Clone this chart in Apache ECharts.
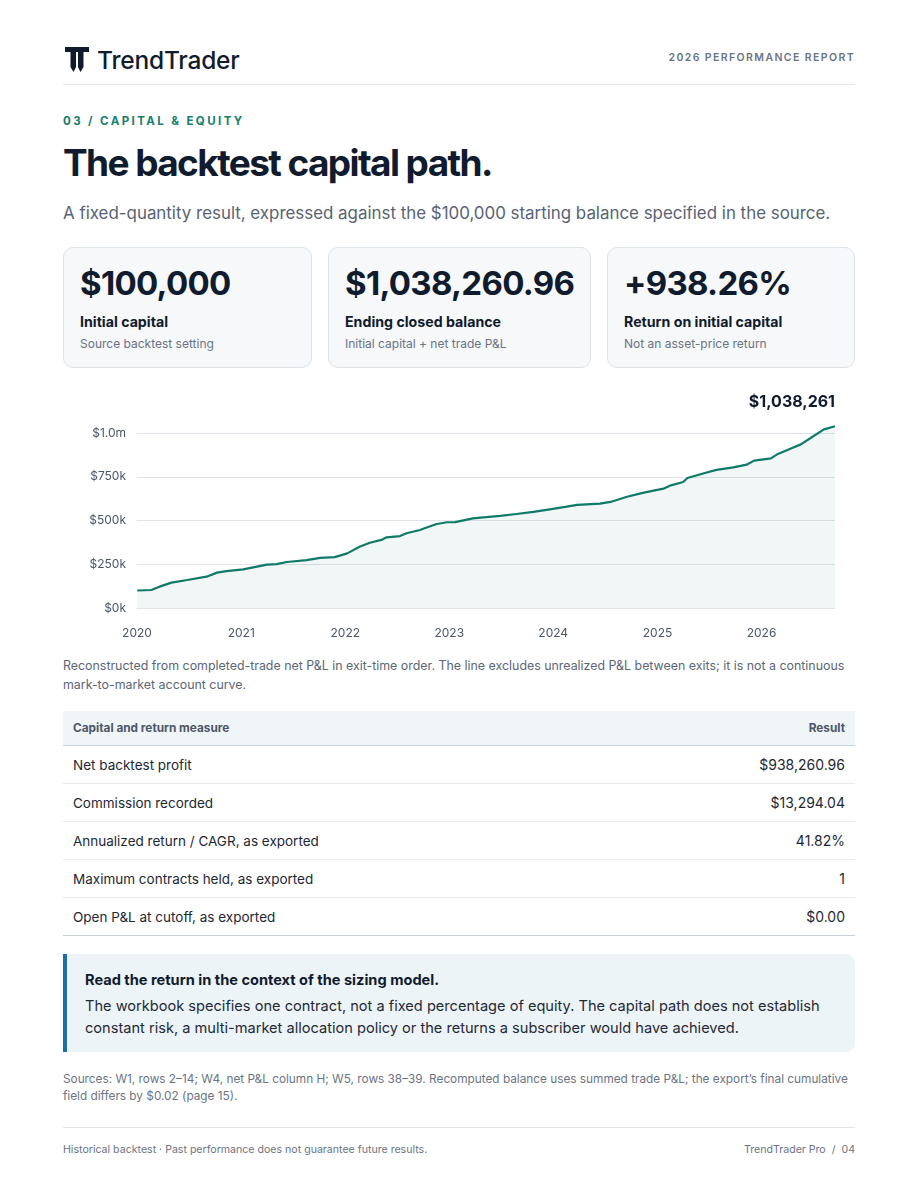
<!DOCTYPE html>
<html>
<head>
<meta charset="utf-8">
<script src="https://cdn.jsdelivr.net/npm/echarts@6/dist/echarts.min.js"></script>
<style>
  html, body { margin: 0; padding: 0; background: #fff; }
  body { width: 918px; height: 1188px; position: relative; font-family: Inter, "Noto Sans", sans-serif; color: #111b2e; }
  .abs { position: absolute; }
  .brand { left: 97px; top: 45px; font-size: 24.5px; line-height: 30px; font-weight: 500; color: #111b2e; letter-spacing: -0.2px; }
  .report { right: 63px; top: 52px; font-size: 10.5px; line-height: 12px; font-weight: 600; letter-spacing: 1.4px; color: #6b7483; }
  .rule { left: 63px; width: 792px; height: 1px; background: #e3e7eb; }
  .kicker { left: 63px; top: 114px; font-size: 11.5px; line-height: 14px; font-weight: 700; letter-spacing: 2.4px; color: #15806f; }
  .title { left: 63px; top: 141px; font-size: 37px; line-height: 44px; font-weight: 700; letter-spacing: -1.6px; color: #111b2e; margin: 0; }
  .sub { left: 63px; top: 202px; font-size: 16.9px; line-height: 22px; color: #586374; }
  .card { top: 247px; height: 121px; background: #f6f8f9; border: 1px solid #dde4ea; border-radius: 10px; box-sizing: border-box; }
  .card .big { position: absolute; left: 16px; top: 16px; font-size: 33px; line-height: 38px; font-weight: 700; letter-spacing: -0.7px; color: #111b2e; }
  .card .lab { position: absolute; left: 16px; top: 65px; font-size: 14.2px; line-height: 18px; font-weight: 700; color: #111b2e; }
  .card .note { position: absolute; left: 16px; top: 88px; font-size: 12px; line-height: 16px; color: #687385; }
  #chart { left: 0; top: 388px; width: 918px; height: 262px; }
  .cap { left: 63px; top: 656px; width: 792px; font-size: 12.4px; line-height: 19px; color: #5b6676; }
  table { position: absolute; left: 63px; top: 711px; width: 792px; border-collapse: collapse; font-size: 14px; color: #1d2736; }
  th { background: #f0f5f8; height: 34px; font-size: 11.8px; font-weight: 700; color: #4b5668; border-bottom: 1.5px solid #c6d2dc; padding: 0 10px; }
  td { height: 37px; border-bottom: 1px solid #e6ebef; padding: 0 10px; }
  td.l { font-size: 13.5px; }
  tr:last-child td { border-bottom: 1px solid #c6d2dc; }
  .l { text-align: left; } .r { text-align: right; }
  .callout { left: 63px; top: 954px; width: 792px; height: 98px; box-sizing: border-box; background: #edf4f8; border-left: 4px solid #1d6ea6; border-radius: 0 9px 9px 0; padding: 16px 8px 0 18px; }
  .callout .h { font-size: 14.6px; line-height: 20px; font-weight: 700; color: #111b2e; }
  .callout .b { margin-top: 5px; font-size: 14.6px; line-height: 22px; color: #1f2937; }
  .src { left: 63px; top: 1071px; width: 792px; font-size: 11.8px; line-height: 16.5px; color: #6b7483; }
  .foot { top: 1143px; font-size: 10.6px; line-height: 13px; color: #6b7483; }
</style>
</head>
<body>
<svg class="abs" style="left:65px;top:47px" width="24" height="26" viewBox="0 0 24 26">
  <path d="M0 0 H24 V5 H18.5 V20 L15.5 25 L13 20 V5 H11 V20 L8.5 25 L5.5 20 V5 H0 Z" fill="#111b2e"/>
</svg>
<div class="abs brand">TrendTrader</div>
<div class="abs report">2026 PERFORMANCE REPORT</div>
<div class="abs rule" style="top:84px"></div>

<div class="abs kicker">03 / CAPITAL &amp; EQUITY</div>
<h1 class="abs title">The backtest capital path.</h1>
<div class="abs sub">A fixed-quantity result, expressed against the $100,000 starting balance specified in the source.</div>

<div class="abs card" style="left:63px;width:249px"><div class="big">$100,000</div><div class="lab">Initial capital</div><div class="note">Source backtest setting</div></div>
<div class="abs card" style="left:328px;width:263px"><div class="big">$1,038,260.96</div><div class="lab">Ending closed balance</div><div class="note">Initial capital + net trade P&amp;L</div></div>
<div class="abs card" style="left:607px;width:248px"><div class="big">+938.26%</div><div class="lab">Return on initial capital</div><div class="note">Not an asset-price return</div></div>

<div class="abs" id="chart"></div>

<div class="abs cap">Reconstructed from completed-trade net P&amp;L in exit-time order. The line excludes unrealized P&amp;L between exits; it is not a continuous mark-to-market account curve.</div>

<table>
  <thead><tr><th class="l">Capital and return measure</th><th class="r">Result</th></tr></thead>
  <tbody>
    <tr><td class="l">Net backtest profit</td><td class="r">$938,260.96</td></tr>
    <tr><td class="l">Commission recorded</td><td class="r">$13,294.04</td></tr>
    <tr><td class="l">Annualized return / CAGR, as exported</td><td class="r">41.82%</td></tr>
    <tr><td class="l">Maximum contracts held, as exported</td><td class="r">1</td></tr>
    <tr><td class="l">Open P&amp;L at cutoff, as exported</td><td class="r">$0.00</td></tr>
  </tbody>
</table>

<div class="abs callout">
  <div class="h">Read the return in the context of the sizing model.</div>
  <div class="b">The workbook specifies one contract, not a fixed percentage of equity. The capital path does not establish constant risk, a multi-market allocation policy or the returns a subscriber would have achieved.</div>
</div>

<div class="abs src">Sources: W1, rows 2–14; W4, net P&amp;L column H; W5, rows 38–39. Recomputed balance uses summed trade P&amp;L; the export’s final cumulative field differs by $0.02 (page 15).</div>
<div class="abs rule" style="top:1127px"></div>
<div class="abs foot" style="left:63px">Historical backtest · Past performance does not guarantee future results.</div>
<div class="abs foot" style="right:63px">TrendTrader Pro &nbsp;/&nbsp; 04</div>

<script>
// closed balance after exits
var exitDates = ['2020-01-02','2020-02-20','2020-03-20','2020-05-01','2020-06-25','2020-09-01','2020-10-08','2020-11-10',
  '2021-01-08','2021-04-01','2021-05-05','2021-06-10','2021-08-18','2021-10-05','2021-11-25',
  '2022-01-08','2022-02-20','2022-03-28','2022-05-08','2022-05-26','2022-07-12','2022-08-04','2022-09-20','2022-10-16','2022-11-18','2022-12-24',
  '2023-01-22','2023-03-25','2023-05-01','2023-06-28','2023-08-25','2023-10-23','2023-12-20',
  '2024-02-17','2024-03-25','2024-06-13','2024-07-20','2024-09-16','2024-11-14',
  '2025-01-22','2025-02-17','2025-04-01','2025-04-16','2025-06-13','2025-07-27','2025-09-24','2025-11-10','2025-12-06',
  '2026-02-03','2026-02-25','2026-04-02','2026-05-19','2026-06-21','2026-08-08','2026-09-16'];
var balance = [100000,103000,122000,145000,160000,179000,202000,211000,
  221000,248000,251000,263000,274000,286000,291000,
  312000,350000,373000,389000,404000,411000,427000,446000,461000,480000,490000,
  491000,512000,518000,526000,537000,549000,564000,
  579000,589000,596000,606000,636000,659000,
  682000,701000,720000,743000,770000,789000,804000,819000,842000,
  855000,878000,903000,935000,970000,1021000,1038261];
var yTicks = [0, 250000, 500000, 750000, 1000000];
var endLabel = '$1,038,261';

var last = exitDates.length - 1;
var points = exitDates.map(function (d, i) { return [d, balance[i]]; });

var myChart = echarts.init(document.getElementById('chart'));
var option = {
  animation: false,
  grid: { left: 137, right: 83, top: 38, bottom: 42 },
  xAxis: {
    type: 'time',
    min: '2020-01-01',
    max: exitDates[last],
    splitNumber: 7,
    minInterval: 365 * 24 * 3600 * 1000,
    axisLine: { show: false },
    axisTick: { show: false },
    splitLine: { show: false },
    axisLabel: { formatter: '{yyyy}', color: '#4b5668', fontSize: 12, fontFamily: 'Inter', margin: 19, showMaxLabel: false }
  },
  yAxis: {
    type: 'value',
    min: yTicks[0],
    max: 1040000,
    interval: yTicks[1] - yTicks[0],
    axisLine: { show: false },
    axisTick: { show: false },
    splitLine: { show: true, showMaxLine: false, lineStyle: { color: '#dde3e8', width: 1 } },
    axisLabel: {
      color: '#4b5668', fontSize: 12, fontFamily: 'Inter', margin: 11, showMaxLabel: false,
      formatter: function (v) {
        if (yTicks.indexOf(v) < 0) return '';
        return v >= 1000000 ? '$' + (v / 1000000).toFixed(1) + 'm' : '$' + (v / 1000) + 'k';
      }
    }
  },
  series: [{
    type: 'line',
    data: points,
    symbol: 'none',
    showSymbol: false,
    lineStyle: { color: '#0f7a68', width: 2.2 },
    itemStyle: { color: '#0f7a68' },
    areaStyle: { color: 'rgba(15,122,104,0.09)' },
    markPoint: {
      symbol: 'circle',
      symbolSize: 1,
      itemStyle: { color: 'rgba(0,0,0,0)' },
      label: { show: true, position: 'top', distance: 16, align: 'right', formatter: endLabel,
        fontSize: 16, fontWeight: 700, color: '#111b2e', fontFamily: 'Inter' },
      data: [{ coord: [exitDates[last], balance[last]] }]
    }
  }]
};
myChart.setOption(option);
</script>
</body>
</html>
